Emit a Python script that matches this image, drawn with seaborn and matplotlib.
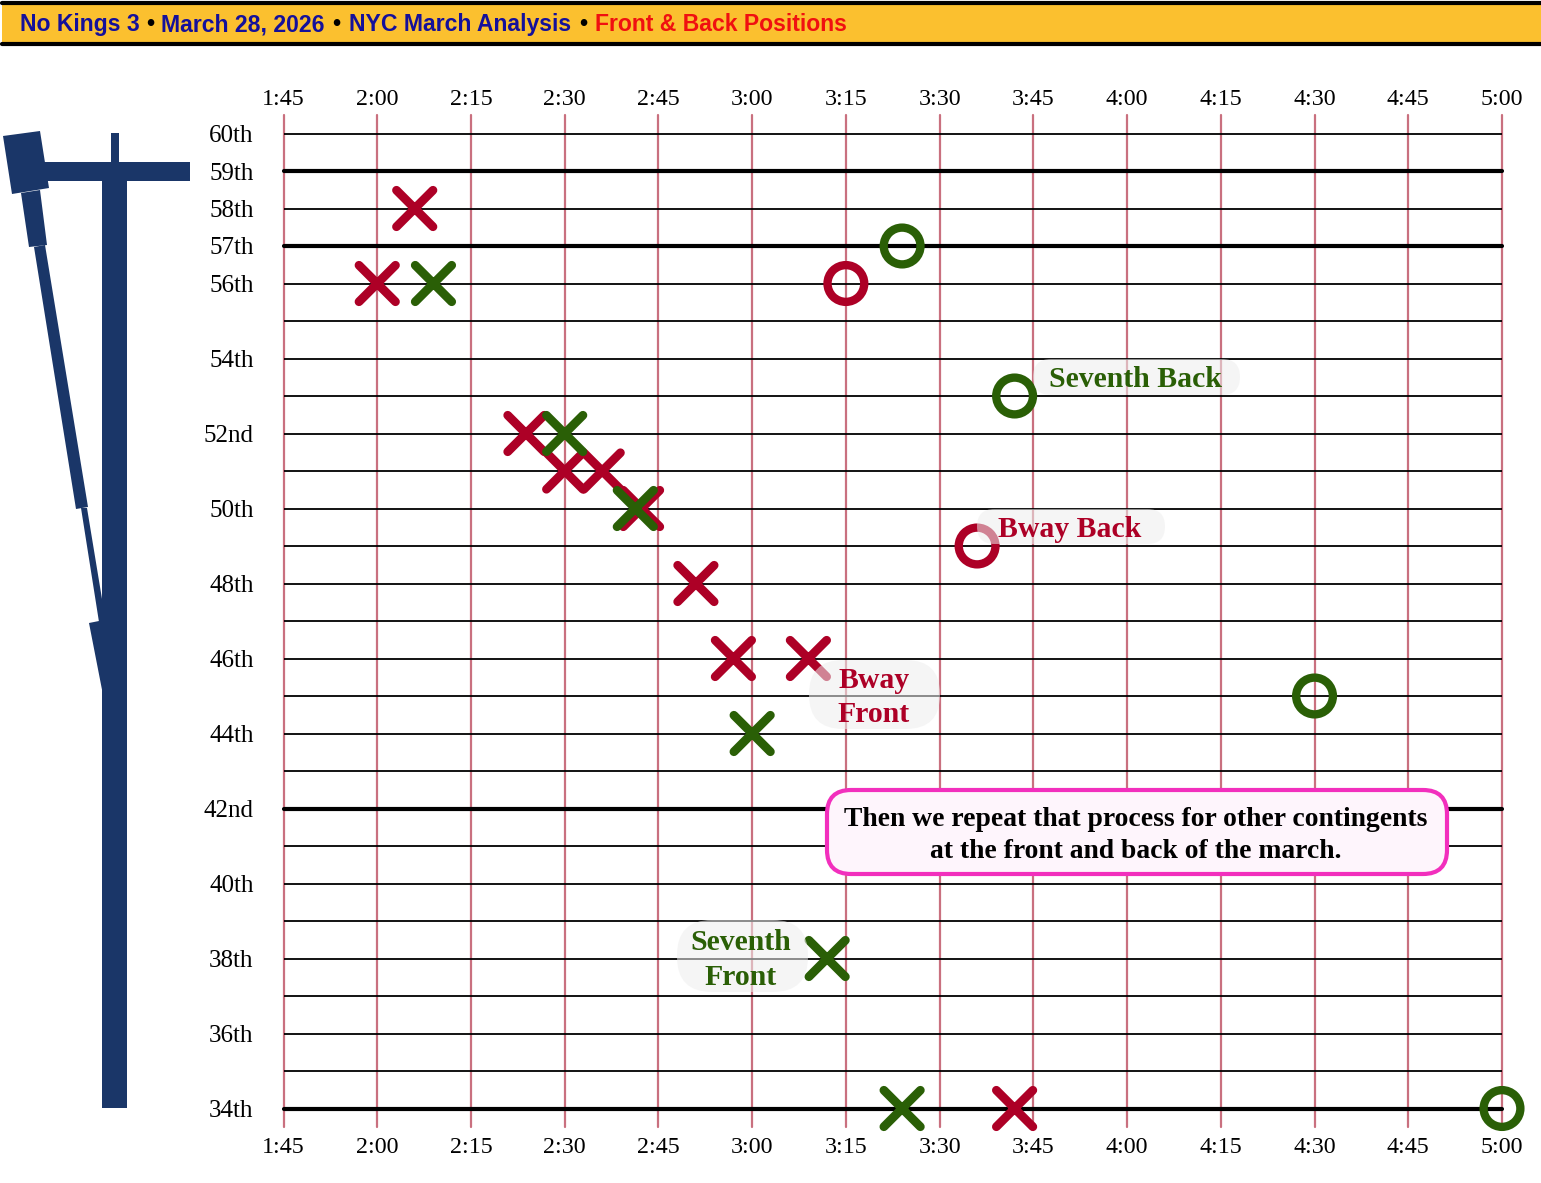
import matplotlib
matplotlib.use("Agg")
import pandas as pd
import seaborn as sns
import matplotlib.pyplot as plt
from matplotlib.patches import FancyBboxPatch, Polygon, Rectangle

# minutes are counted from 1:45, streets are the cross street numbers
bway_front_min = [15, 21, 38.8, 45, 51, 57.3, 66, 72, 84, 117]
bway_front_st = [56, 58, 52, 51, 51, 50, 48, 46, 46, 34]
seventh_front_min = [24, 45, 56.3, 75, 87, 99]
seventh_front_st = [56, 52, 50, 44, 38, 34]
bway_back_min = [90, 111]
bway_back_st = [56, 49]
seventh_back_min = [99, 117, 165, 195]
seventh_back_st = [57, 53, 45, 34]

time_ticks = [0, 15, 30, 45, 60, 75, 90, 105, 120, 135, 150, 165, 180, 195]
time_labels = ["1:45", "2:00", "2:15", "2:30", "2:45", "3:00", "3:15", "3:30",
               "3:45", "4:00", "4:15", "4:30", "4:45", "5:00"]
street_ticks = [60, 59, 58, 57, 56, 54, 52, 50, 48, 46, 44, 42, 40, 38, 36, 34]
street_labels = ["60th", "59th", "58th", "57th", "56th", "54th", "52nd", "50th",
                 "48th", "46th", "44th", "42nd", "40th", "38th", "36th", "34th"]
thin_streets = [60, 58, 56, 55, 54, 53, 52, 51, 50, 49, 48, 47, 46, 45, 44, 43,
                41, 40, 39, 38, 37, 36, 35]
bold_streets = [59, 57, 42, 34]

RED = "#ad0026"
GREEN = "#2a5f06"
NAVY = "#1a3668"
SERIF = "Liberation Serif"
W, H = 1541, 1183

sns.set_theme(style="white")
plt.rcParams["font.family"] = [SERIF, "DejaVu Serif"]

front = pd.DataFrame({
    "minute": bway_front_min + seventh_front_min,
    "street": bway_front_st + seventh_front_st,
    "route": ["Bway"] * len(bway_front_min) + ["Seventh"] * len(seventh_front_min),
})
back = pd.DataFrame({
    "minute": bway_back_min + seventh_back_min,
    "street": bway_back_st + seventh_back_st,
    "route": ["Bway"] * len(bway_back_min) + ["Seventh"] * len(seventh_back_min),
})
palette = {"Bway": RED, "Seventh": GREEN}

fig = plt.figure(figsize=(W / 100, H / 100), dpi=100, facecolor="white")
ax = fig.add_axes([283.5 / W, 1 - 1127 / H, (1502 - 283.5) / W, (1127 - 115) / H])

# vertical time grid, then the street lines over it
ax.set_xlim(0, 195)
ax.set_ylim(34 - 18.5 / 37.5, 60 + 18.5 / 37.5)
ax.set_xticks(time_ticks, time_labels)
ax.set_yticks(street_ticks, street_labels)
ax.xaxis.grid(True, color="#c9707f", lw=1.6, zorder=1)
ax.yaxis.grid(False)
ax.set_axisbelow(True)
for gl in ax.get_xgridlines():
    gl.set_clip_on(False)
ax.hlines(thin_streets, 0, 195, color="black", lw=1.3, zorder=2, clip_on=False)
ax.hlines(bold_streets, 0, 195, color="black", lw=3, zorder=2, capstyle="round", clip_on=False)
sns.despine(ax=ax, left=True, bottom=True)

sns.scatterplot(data=front, x="minute", y="street", hue="route", palette=palette,
                marker="x", s=690, linewidth=6.3, legend=False, ax=ax,
                clip_on=False, zorder=3, capstyle="round")

sns.scatterplot(data=back, x="minute", y="street", hue="route", palette=palette,
                marker="o", s=700, linewidth=6, legend=False, ax=ax,
                clip_on=False, zorder=3)
rings = ax.collections[-1]
rings.set_edgecolors(rings.get_facecolors())
rings.set_facecolors("none")

ax.set_xlabel("")
ax.set_ylabel("")
ax.tick_params(axis="x", top=True, labeltop=True, bottom=True, labelbottom=True,
               length=0, pad=7, labelsize=17.3, labelcolor="black")
ax.tick_params(axis="y", length=0, pad=21.5, labelsize=18, labelcolor="black")
for tick in ax.xaxis.get_major_ticks():
    tick.label2.set_verticalalignment("baseline")

# overlay in pixel coordinates for the banner, the street map and the notes
over = fig.add_axes([0, 0, 1, 1], facecolor="none")
over.set_xlim(0, W)
over.set_ylim(H, 0)
over.axis("off")

over.add_patch(Rectangle((2, 3), W, 41, fc="#fbc02f", ec="none"))
over.plot([2, W], [2.5, 2.5], color="black", lw=3, solid_capstyle="round")
over.plot([2, W], [44, 44], color="black", lw=3, solid_capstyle="round")

banner = [(20, "No Kings 3", "#14109b"), (146, "•", "black"),
          (161, "March 28, 2026", "#14109b"), (332, "•", "black"),
          (349, "NYC March Analysis", "#14109b"), (579, "•", "black"),
          (595, "Front & Back Positions", "#f01010")]
for x, s, c in banner:
    over.text(x, 24.5, s, color=c, family="Liberation Sans", weight="bold",
              fontsize=16.6, va="center", ha="left")

# street map down the left side
map_shapes = [
    [(3, 136), (40, 131), (49, 188), (12, 194)],
    [(21, 193), (40, 190), (47, 245), (29, 247)],
    [(34, 247), (45, 245), (88, 507), (76, 509)],
    [(81, 508), (87, 508), (103, 605), (103, 622), (99, 622)],
    [(89, 623), (104, 620), (104, 700)],
    [(40, 162), (190, 162), (190, 181), (40, 181)],
    [(102.5, 181), (127.5, 181), (127.5, 1108), (102.5, 1108)],
    [(111, 133), (119.5, 133), (119.5, 162), (111, 162)],
]
for pts in map_shapes:
    over.add_patch(Polygon(pts, closed=True, fc=NAVY, ec="none"))


def pill(x0, y0, x1, y1, r):
    over.add_patch(FancyBboxPatch((x0 + r, y0 + r), x1 - x0 - 2 * r, y1 - y0 - 2 * r,
                                  boxstyle=f"round,pad={r},rounding_size={r}",
                                  fc="#eeeeee", ec="none", alpha=0.55))


pill(1033, 359, 1240, 395, 18)
pill(977, 509, 1165, 544, 17.5)
pill(809, 660, 940, 729, 34)
pill(677, 920, 808, 992, 35)

notes = [(1136, 379, "Seventh Back", GREEN), (1070, 529, "Bway Back", RED),
         (874, 680, "Bway", RED), (874, 714, "Front", RED),
         (741, 942, "Seventh", GREEN), (741, 977, "Front", GREEN)]
for x, y, s, c in notes:
    over.text(x, y, s, color=c, weight="bold", fontsize=21.4, ha="center", va="center")

over.add_patch(FancyBboxPatch((849, 812), 576, 40,
                              boxstyle="round,pad=22,rounding_size=24",
                              fc="#fef5fc", ec="#f22fbd", lw=3))
over.text(1136, 819, "Then we repeat that process for other contingents", color="black",
          weight="bold", fontsize=19.9, ha="center", va="center")
over.text(1136, 851, "at the front and back of the march.", color="black",
          weight="bold", fontsize=19.9, ha="center", va="center")

fig.savefig("out.png", dpi=100, facecolor="white")
